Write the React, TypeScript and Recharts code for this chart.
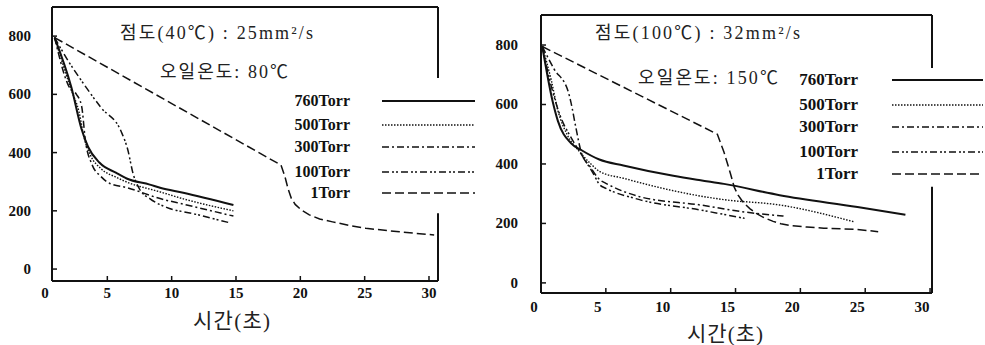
import React from "react";
import { LineChart, Line, XAxis, YAxis, ReferenceLine } from "recharts";

// ---------- data (x = 시간(초), y = value) ----------
const seriesNames = ["760Torr", "500Torr", "300Torr", "100Torr", "1Torr"];

// left panel: 점도(40℃) 25mm²/s, 오일온도 80℃
const left760 = [[0.9, 795], [2.2, 625], [3.0, 480], [3.5, 420], [4.4, 365], [5.7, 330], [6.5, 311], [8.3, 290], [9.1, 279], [10.9, 262], [14.8, 220]];
const left500 = [[0.9, 795], [2.2, 615], [2.8, 540], [3.2, 450], [3.7, 390], [4.5, 345], [5.7, 315], [6.5, 299], [9.1, 265], [11.0, 240], [14.8, 200]];
const left300 = [[0.9, 795], [2.1, 620], [2.6, 600], [3.0, 560], [3.3, 440], [3.8, 360], [4.5, 318], [5.2, 294], [6.5, 280], [9.1, 242], [11.0, 222], [14.8, 182]];
const left100 = [[0.9, 795], [2.0, 712], [3.1, 640], [4.5, 555], [6.1, 470], [6.6, 408], [7.0, 328], [7.5, 275], [8.3, 242], [9.6, 212], [11.7, 190], [14.6, 158]];
const left1 = [[0.9, 795], [18.5, 357], [18.8, 318], [19.05, 275], [19.3, 243], [19.6, 222], [20.1, 202], [20.7, 186], [21.5, 172], [22.5, 162], [23.8, 150], [25.1, 140], [27.7, 128], [30.4, 117]];

// right panel: 점도(100℃) 32mm²/s, 오일온도 150℃
const right760 = [[0.1, 795], [0.9, 610], [1.3, 545], [2.3, 470], [3.1, 447], [4.5, 415], [6.35, 395], [10.2, 360], [12.3, 345], [14.1, 333], [18.4, 295], [24.4, 255], [28.1, 229]];
const right500 = [[0.1, 795], [0.8, 680], [1.3, 580], [2.0, 500], [3.0, 440], [3.8, 402], [4.55, 374], [6.35, 352], [10.2, 310], [12.3, 292], [14.1, 280], [18.4, 262], [24.1, 206]];
const right300 = [[0.1, 795], [1.0, 720], [2.1, 643], [2.3, 609], [2.7, 520], [3.1, 440], [3.8, 390], [4.55, 346], [5.0, 335], [7.6, 290], [12.3, 262], [15.4, 240], [18.7, 225]];
const right100 = [[0.1, 795], [0.8, 660], [1.5, 560], [2.3, 490], [3.0, 440], [4.0, 370], [4.55, 329], [5.0, 318], [7.6, 280], [12.3, 245], [15.7, 217]];
const right1 = [[0.1, 795], [13.6, 500], [14.1, 441], [14.6, 369], [14.9, 322], [15.2, 295], [15.6, 270], [16.1, 250], [16.6, 234], [17.2, 219], [17.9, 207], [18.5, 199], [19.2, 193], [20.5, 188], [21.8, 184], [24.4, 180], [26.0, 172]];

const leftXTicks = [0.7, 5, 10, 15, 20, 25, 30];
const rightXTicks = [0, 5, 10, 15, 20, 25, 30];
const yTicks = [0, 200, 400, 600, 800];

const leftNotes = ["점도(40℃) : 25mm²/s", "오일온도: 80℃"];
const rightNotes = ["점도(100℃) : 32mm²/s", "오일온도: 150℃"];
const xTitle = "시간(초)";

// ---------- styles ----------
const INK = "#111";
const dashes = [undefined, "1.5 1.5", "7 3 2 3", "7 3 2 2 2 3", "9 4"];
const widths = [2, 1.4, 1.5, 1.5, 1.5];
const curveTypes: ("monotone" | "linear")[] = ["monotone", "monotone", "monotone", "monotone", "linear"];
const tickFont = "'Liberation Serif', 'DejaVu Serif', serif";
const noteFont = "'Liberation Serif', 'Noto Sans CJK KR', serif";

const toPts = (a: number[][]) => a.map(([x, y]) => ({ x, y }));

const makeXTick = (labelDx: number, dy: number) => (props: any) => {
  const { x, y, payload } = props;
  const v = payload.value;
  const label = v < 1 ? "0" : String(v);
  const shift = v < 1 ? -7 : labelDx;
  return (
    <g>
      <line x1={x} x2={x} y1={y} y2={y - 5} stroke={INK} strokeWidth={1.5} />
      <text x={x + shift} y={y + dy} textAnchor="middle" fontFamily={tickFont} fontWeight="bold" fontSize={15} fill={INK}>
        {label}
      </text>
    </g>
  );
};

const makeYTick = (gap: number) => (props: any) => {
  const { x, y, payload } = props;
  return (
    <g>
      <line x1={x} x2={x + 5} y1={y} y2={y} stroke={INK} strokeWidth={1.5} />
      <text x={x - gap} y={y + 5} textAnchor="end" fontFamily={tickFont} fontWeight="bold" fontSize={15} fill={INK}>
        {payload.value}
      </text>
    </g>
  );
};

type PanelProps = {
  series: number[][][];
  xDomain: [number, number];
  yDomain: [number, number];
  xTicks: number[];
  width: number;
  margin: { top: number; right: number; bottom: number; left: number };
  yAxisWidth: number;
  gap: [number, number];
  xLabelDx: number;
  xLabelDy: number;
  yGap: number;
};

function Panel(p: PanelProps) {
  const [, x1] = p.xDomain;
  const [yBottom, yTop] = p.yDomain;
  return (
    <LineChart width={p.width} height={345} margin={p.margin}>
      <XAxis
        type="number"
        dataKey="x"
        domain={p.xDomain}
        ticks={p.xTicks}
        allowDataOverflow
        height={30}
        tickSize={0}
        tickMargin={0}
        tickLine={false}
        axisLine={{ stroke: INK, strokeWidth: 2 }}
        tick={makeXTick(p.xLabelDx, p.xLabelDy)}
        interval={0}
      />
      <YAxis
        type="number"
        dataKey="y"
        domain={p.yDomain}
        ticks={yTicks}
        allowDataOverflow
        width={p.yAxisWidth}
        tickSize={0}
        tickMargin={0}
        tickLine={false}
        axisLine={{ stroke: INK, strokeWidth: 2 }}
        tick={makeYTick(p.yGap)}
        interval={0}
      />
      <ReferenceLine y={yTop} stroke={INK} strokeWidth={2} />
      <ReferenceLine segment={[{ x: x1, y: yTop }, { x: x1, y: p.gap[0] }]} stroke={INK} strokeWidth={2} />
      <ReferenceLine segment={[{ x: x1, y: p.gap[1] }, { x: x1, y: yBottom }]} stroke={INK} strokeWidth={2} />
      {p.series.map((s, i) => (
        <Line
          key={seriesNames[i]}
          data={toPts(s)}
          dataKey="y"
          type={curveTypes[i]}
          stroke={INK}
          strokeWidth={widths[i]}
          strokeDasharray={dashes[i]}
          dot={false}
          activeDot={false}
          isAnimationActive={false}
        />
      ))}
    </LineChart>
  );
}

function LegendBlock({ textX, lineX1, lineX2, ys, size }: { textX: number; lineX1: number; lineX2: number; ys: number[]; size: number }) {
  return (
    <g>
      {seriesNames.map((n, i) => (
        <g key={n}>
          <text x={textX} y={ys[i] + 5} textAnchor="end" fontFamily={tickFont} fontWeight="bold" fontSize={size} fill={INK}>
            {n}
          </text>
          <line x1={lineX1} x2={lineX2} y1={ys[i]} y2={ys[i]} stroke={INK} strokeWidth={widths[i]} strokeDasharray={dashes[i]} />
        </g>
      ))}
    </g>
  );
}

function Note({ x, y, w, size, children, anchor }: { x: number; y: number; w: number; size: number; children: string; anchor?: string }) {
  return (
    <text x={x} y={y} textLength={w} lengthAdjust="spacing" textAnchor={anchor || "start"} fontFamily={noteFont} fontSize={size} fill="#222">
      {children}
    </text>
  );
}

export default function App() {
  return (
    <div style={{ position: "absolute", left: 0, top: 0, width: 985, height: 345, background: "#fff", overflow: "hidden" }}>
      <div style={{ position: "absolute", left: 0, top: 0 }}>
        <Panel
          series={[left760, left500, left300, left100, left1]}
          xDomain={[0.7, 30.7]}
          yDomain={[-41, 900]}
          xTicks={leftXTicks}
          width={490}
          margin={{ top: 7, right: 52, bottom: 34, left: 0 }}
          yAxisWidth={52}
          gap={[656, 192]}
          xLabelDx={0}
          xLabelDy={17}
          yGap={21}
        />
      </div>
      <div style={{ position: "absolute", left: 490, top: 0 }}>
        <Panel
          series={[right760, right500, right300, right100, right1]}
          xDomain={[0, 30.15]}
          yDomain={[-34, 901]}
          xTicks={rightXTicks}
          width={495}
          margin={{ top: 15, right: 53, bottom: 22, left: 0 }}
          yAxisWidth={51}
          gap={[723, 323]}
          xLabelDx={-8}
          xLabelDy={19}
          yGap={23}
        />
      </div>
      <svg width={985} height={345} style={{ position: "absolute", left: 0, top: 0, pointerEvents: "none" }}>
        <Note x={120} y={39} w={193} size={18}>{leftNotes[0]}</Note>
        <Note x={160} y={78} w={128} size={18}>{leftNotes[1]}</Note>
        <Note x={595} y={39} w={205} size={18}>{rightNotes[0]}</Note>
        <Note x={638} y={84} w={140} size={18}>{rightNotes[1]}</Note>
        <LegendBlock textX={350} lineX1={382} lineX2={475} ys={[101, 125, 147, 172, 193]} size={16} />
        <LegendBlock textX={858} lineX1={892} lineX2={983} ys={[80, 105, 127, 152, 174]} size={17} />
        <Note x={193} y={328} w={77} size={21}>{xTitle}</Note>
        <Note x={687} y={341} w={76} size={21}>{xTitle}</Note>
      </svg>
    </div>
  );
}
